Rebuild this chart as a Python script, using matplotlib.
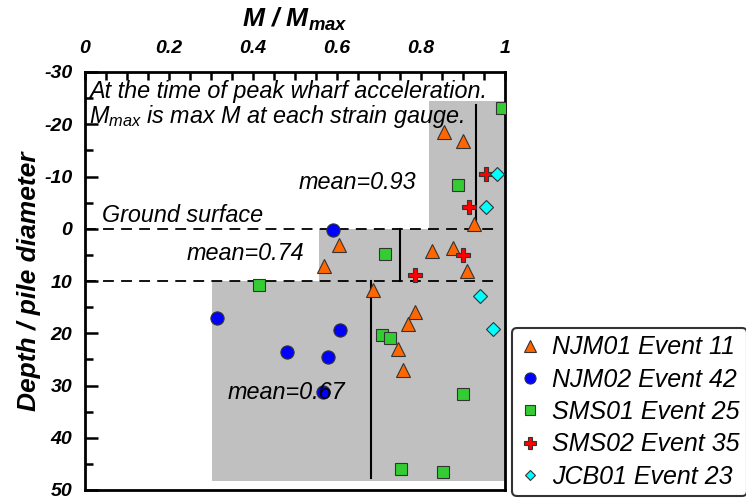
import matplotlib
matplotlib.use("Agg")
import matplotlib.pyplot as plt
from matplotlib.lines import Line2D
import numpy as np

plt.rcParams['font.family'] = ['Liberation Sans', 'DejaVu Sans']
plt.rcParams['axes.unicode_minus'] = False
plt.rcParams['mathtext.fontset'] = 'custom'
plt.rcParams['mathtext.it'] = 'Liberation Sans:italic'
plt.rcParams['mathtext.rm'] = 'Liberation Sans:italic'
plt.rcParams['mathtext.bf'] = 'Liberation Sans:italic:bold'

# M / Mmax and depth / pile diameter, per record
njm01_x = [0.855, 0.899, 0.925, 0.605, 0.570, 0.825, 0.875, 0.909, 0.685, 0.786, 0.768, 0.745, 0.756]
njm01_d = [-18.6, -16.8, -0.9, 3.1, 7.1, 4.3, 3.6, 8.0, 11.8, 15.9, 18.2, 23.0, 27.1]
njm02_x = [0.591, 0.314, 0.607, 0.480, 0.578, 0.567]
njm02_d = [0.3, 17.0, 19.3, 23.6, 24.6, 31.2]
sms01_x = [0.992, 0.887, 0.715, 0.414, 0.706, 0.725, 0.901, 0.752, 0.852]
sms01_d = [-23.1, -8.3, 4.8, 10.7, 20.3, 21.0, 31.6, 46.0, 46.5]
sms02_x = [0.954, 0.915, 0.901, 0.786]
sms02_d = [-10.5, -4.1, 5.1, 8.8]
jcb01_x = [0.982, 0.955, 0.940, 0.972]
jcb01_d = [-10.5, -4.1, 12.8, 19.2]

# depth zones: grey box top/bottom/left edge, mean line and its extent
zone_top = [-24.4, 0, 10]
zone_bot = [0, 10, 48.2]
zone_left = [0.819, 0.557, 0.302]
zone_mean = [0.93, 0.75, 0.68]
mean_top = [-23.7, 0, 10]
mean_bot = [0, 10, 47.7]
mean_labels = ['mean=0.93', 'mean=0.74', 'mean=0.67']
label_x = [0.648, 0.383, 0.48]
label_d = [-8.8, 4.8, 31.4]

fig = plt.figure(figsize=(7.46, 5.01), dpi=100)
ax = fig.add_axes([85/746, 11/501, 420/746, 418/501])

for t, b, l in zip(zone_top, zone_bot, zone_left):
    ax.fill_between([l, 1.0], t, b, color='#c0c0c0', lw=0, zorder=0)
for m, t, b in zip(zone_mean, mean_top, mean_bot):
    ax.plot([m, m], [t, b], color='black', lw=1.5, zorder=1)

for yv in [0, 10]:
    ax.plot([0.0, 0.98], [yv, yv], color='black', lw=1.3, dashes=(6, 4), zorder=1)

series = [
    (njm01_x, njm01_d, '^', '#ff6600', 'NJM01 Event 11', 10.5),
    (njm02_x, njm02_d, 'o', '#0000ff', 'NJM02 Event 42', 9.5),
    (sms01_x, sms01_d, 's', '#33cc33', 'SMS01 Event 25', 9),
    (sms02_x, sms02_d, 'P', '#ff0000', 'SMS02 Event 35', 9.5),
    (jcb01_x, jcb01_d, 'D', '#00ffff', 'JCB01 Event 23', 7),
]
handles = []
for xs, ds, mk, c, lab, s in series:
    ax.plot(xs, ds, ls='none', marker=mk, ms=s, mfc=c, mec='#333333', mew=0.8, zorder=3)
    handles.append(Line2D([], [], ls='none', marker=mk, ms=s - 1.5, mfc=c, mec='#333333',
                          mew=0.8, label=lab))

for lab, lx, ld in zip(mean_labels, label_x, label_d):
    ax.text(lx, ld, lab, fontsize=16.8, style='italic', ha='center', va='center', zorder=4)
ax.text(0.04, -2.6, 'Ground surface', fontsize=16.8, style='italic', ha='left', va='center')
ax.text(0.01, -26.2, 'At the time of peak wharf acceleration.', fontsize=16.8,
        style='italic', ha='left', va='center', zorder=4)
ax.text(0.01, -21.5, r'$M_{max}$ is max M at each strain gauge.', fontsize=16.8,
        style='italic', ha='left', va='center', zorder=4)

ax.set_xlim(0, 1)
ax.set_ylim(50, -30)
ax.xaxis.tick_top()
ax.xaxis.set_label_position('top')
ax.set_xticks(np.arange(0, 1.01, 0.2))
ax.set_xticklabels(['0', '0.2', '0.4', '0.6', '0.8', '1'])
ax.set_xticks(np.arange(0, 1.01, 0.05), minor=True)
ax.set_yticks(np.arange(-30, 51, 10))
ax.set_yticks(np.arange(-30, 51, 5), minor=True)
ax.tick_params(axis='both', which='both', direction='in', width=1.8)
ax.tick_params(axis='x', which='both', length=6, pad=11)
ax.tick_params(axis='y', which='major', length=9, pad=9)
ax.tick_params(axis='y', which='minor', length=6)
for lb in ax.get_xticklabels() + ax.get_yticklabels():
    lb.set_fontsize(14)
    lb.set_fontweight('bold')
    lb.set_fontstyle('italic')
for sp in ax.spines.values():
    sp.set_linewidth(2)

ax.set_xlabel(r'$\mathbf{M\ /\ M_{max}}$', fontsize=19, labelpad=9)
ax.set_ylabel('Depth / pile diameter', fontsize=19, fontweight='bold', style='italic', labelpad=2)

leg = fig.legend(handles=handles, loc='lower left', bbox_to_anchor=(512/746, 5/501),
                 frameon=True, fancybox=True, prop={'style': 'italic', 'size': 18},
                 handletextpad=0.5, borderpad=0.3, labelspacing=0.33, handlelength=0.8,
                 borderaxespad=0)
leg.get_frame().set_edgecolor('black')
leg.get_frame().set_linewidth(1.5)

fig.savefig('out.png', dpi=100)
